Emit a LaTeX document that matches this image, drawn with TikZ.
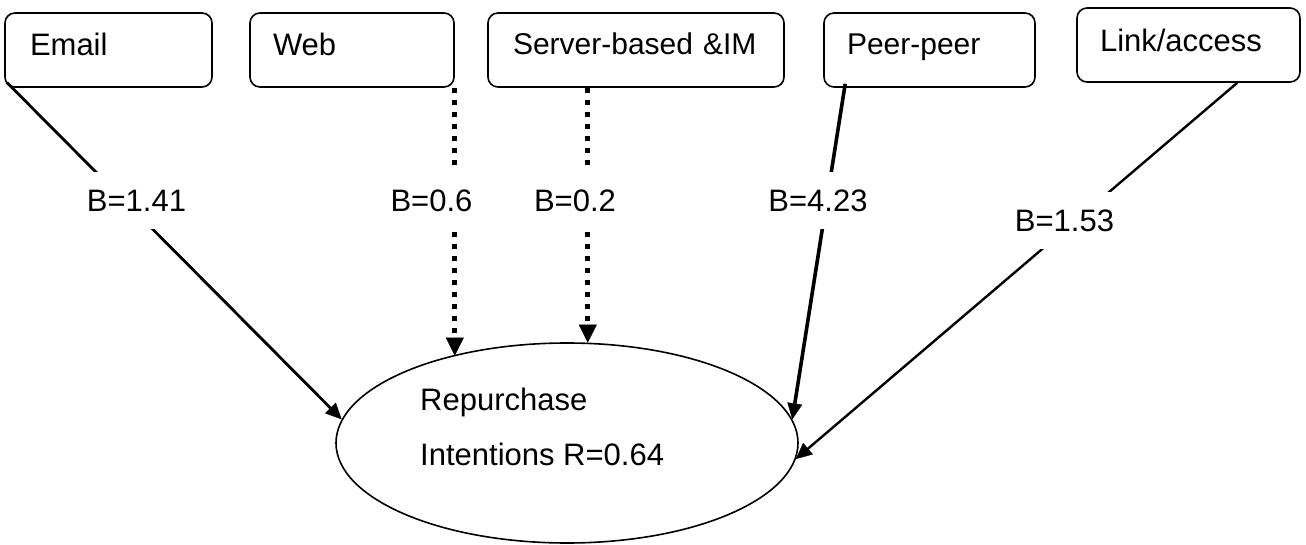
\documentclass[tikz,border=0pt]{standalone}
\usepackage{fontspec}
\setmainfont{Liberation Sans}
\usetikzlibrary{arrows.meta,shapes.geometric,calc}
\begin{document}
\begin{tikzpicture}[x=1pt,y=-1pt,
  every node/.style={font=\fontsize{31}{37}\selectfont},
  srcbox/.style={draw,line width=1.6pt,rounded corners=10pt,inner ysep=0pt,align=left,anchor=base},
  coef/.style={fill=white,inner xsep=4pt,inner ysep=0pt,text height=40pt,text depth=17pt,anchor=base},
  plain/.style={inner sep=0pt,anchor=base west},
  solidlink/.style={-{Triangle[length=16pt,width=15pt,line width=0.5pt]}},
  dotlink/.style={line width=5pt,dash pattern=on 5pt off 7pt,
    -{Triangle[length=18pt,width=18pt,line width=0.5pt]}},
]
\useasboundingbox (0,0) rectangle (1306,545);

% predictor boxes
\node[srcbox,text width=157pt,inner xsep=25pt,text height=43pt,text depth=31pt] (email) at (108.5,56) {Email};
\node[srcbox,text width=158pt,inner xsep=23pt,text height=43pt,text depth=31pt] (web) at (352,56) {Web};
\node[srcbox,font=\fontsize{30}{36}\selectfont,text width=246pt,inner xsep=25pt,text height=42pt,text depth=32pt] (server) at (636,55) {Server-based \&IM};
\node[srcbox,font=\fontsize{30}{36}\selectfont,text width=165pt,inner xsep=23pt,text height=42pt,text depth=32pt] (peer) at (929.5,55) {Peer-peer};
\node[srcbox,text width=177pt,inner xsep=23pt,text height=44pt,text depth=30pt] (link) at (1188.5,52) {Link/access};

% outcome
\node[draw,ellipse,line width=1.6pt,minimum width=462pt,minimum height=200pt,inner sep=0pt] (rp) at (567,443) {};
\node[plain] (rp1) at (420,410) {Repurchase};
\node[plain] (rp2) at (420,465) {Intentions R=0.64};

% paths
\coordinate (sv) at ($(server.south west)!0.338!(server.south east)$);
\draw[solidlink,line width=2.8pt] ($(email.south west)+(3,-5)$) -- (rp.174);
\draw[dotlink] (web.south east) -- (web.south east |- rp.143);
\draw[dotlink] (sv) -- (sv |- rp.78);
\draw[solidlink,line width=3.6pt] ($(peer.south west)+(22,-4)$) -- (rp.6.4);
\draw[solidlink,line width=2.4pt] ($(link.south west)!0.717!(link.south east)$) -- (rp.-4);

% coefficients
\node[coef] (b1) at (136.5,212) {B=1.41};
\node[coef] (b2) at (431.5,212) {B=0.6};
\node[coef] (b3) at (575,212) {B=0.2};
\node[coef] (b4) at (818,212) {B=4.23};
\node[coef] (b5) at (1064.5,232) {B=1.53};
\end{tikzpicture}
\end{document}
